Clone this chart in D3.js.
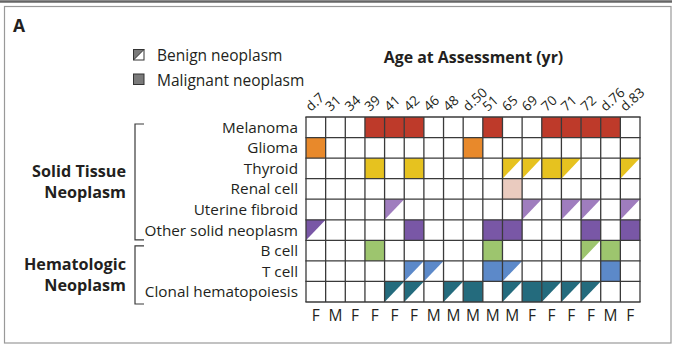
<!DOCTYPE html>
<html><head><meta charset="utf-8">
<script src="https://cdn.jsdelivr.net/npm/d3@7"></script>
<style>html,body{margin:0;padding:0;background:#fff;}svg{display:block;}</style>
</head><body>
<svg id="chart" width="681" height="350"></svg>
<script>
// ---- data ----
const ages = ["d.7","31","34","39","41","42","46","48","d.50","51","65","69","70","71","72","d.76","d.83"];
const sexes = ["F","M","F","F","F","F","M","M","M","M","M","F","F","F","F","M","F"];
const rowNames = ["Melanoma","Glioma","Thyroid","Renal cell","Uterine fibroid","Other solid neoplasm","B cell","T cell","Clonal hematopoiesis"];
const rowColors = ["#BE3A2A","#E8892B","#E6C21F","#EACBBF","#9F7DBE","#7957A6","#9DC56E","#5C89C9","#246B7D"];
// 0 = none, 1 = benign, 2 = malignant
const melanoma = [0,0,0,2,2,2,0,0,0,2,0,0,2,2,2,2,0];
const glioma   = [2,0,0,0,0,0,0,0,2,0,0,0,0,0,0,0,0];
const thyroid  = [0,0,0,2,0,2,0,0,0,0,1,1,2,1,0,0,1];
const renal    = [0,0,0,0,0,0,0,0,0,0,2,0,0,0,0,0,0];
const uterine  = [0,0,0,0,1,0,0,0,0,0,0,1,0,1,1,0,1];
const otherSolid = [1,0,0,0,0,2,0,0,0,2,2,0,0,0,2,0,2];
const bCell    = [0,0,0,2,0,0,0,0,0,2,0,0,0,0,1,2,0];
const tCell    = [0,0,0,0,0,1,1,0,0,2,1,0,0,0,0,2,0];
const clonal   = [0,0,0,0,1,1,0,1,2,0,1,2,1,1,1,0,0];
const statusRows = [melanoma, glioma, thyroid, renal, uterine, otherSolid, bCell, tCell, clonal];
const groups = [
  {lines:["Solid Tissue","Neoplasm"], first:0, last:5},
  {lines:["Hematologic","Neoplasm"], first:6, last:8}
];
const legendItems = ["Benign neoplasm","Malignant neoplasm"];

// ---- drawing ----
const svg = d3.select("#chart");
const FONT = "'Open Sans', 'Noto Sans', sans-serif";
const TXT = "#231F20";

// frame
svg.append("line").attr("x1",0).attr("x2",672).attr("y1",1.5).attr("y2",1.5)
  .attr("stroke","#666").attr("stroke-width",2.5);
svg.append("rect").attr("x",4.5).attr("y",6.5).attr("width",666.5).attr("height",336.5)
  .attr("fill","none").attr("stroke","#999").attr("stroke-width",1.2);

svg.append("text").attr("x",13).attr("y",32).text("A")
  .attr("font-family",FONT).attr("font-weight","bold").attr("font-size",17.5).attr("fill",TXT);

const x = d3.scaleBand().domain(d3.range(ages.length)).range([306, 640]);
const y = d3.scaleBand().domain(d3.range(rowNames.length)).range([117, 302]);

// cells
const cells = [];
statusRows.forEach((r, ri) => r.forEach((s, ci) => { if (s) cells.push({ri, ci, s}); }));
const g = svg.append("g");
g.selectAll("path.cell").data(cells).join("path").attr("class","cell")
  .attr("fill", d => rowColors[d.ri])
  .attr("d", d => {
    const x0 = x(d.ci), x1 = x0 + x.bandwidth(), y0 = y(d.ri), y1 = y0 + y.bandwidth();
    return d.s === 2 ? `M${x0},${y0}H${x1}V${y1}H${x0}Z` : `M${x0},${y0}H${x1}L${x0},${y1}Z`;
  });
// grid lines
const gx = d3.range(ages.length + 1).map(i => i < ages.length ? x(i) : x.range()[1]);
const gy = d3.range(rowNames.length + 1).map(i => i < rowNames.length ? y(i) : y.range()[1]);
g.selectAll("line.v").data(gx).join("line").attr("x1", d=>d).attr("x2", d=>d)
  .attr("y1", gy[0]).attr("y2", gy[gy.length-1]).attr("stroke","#3a3a3a").attr("stroke-width",1.3);
g.selectAll("line.h").data(gy).join("line").attr("y1", d=>d).attr("y2", d=>d)
  .attr("x1", gx[0]-0.6).attr("x2", gx[gx.length-1]+0.6).attr("stroke","#3a3a3a").attr("stroke-width",1.3);

// row labels
svg.selectAll("text.row").data(rowNames).join("text").attr("class","row")
  .attr("x", 298).attr("y", (d,i) => y(i) + y.bandwidth()/2 + 5.5)
  .attr("text-anchor","end").attr("font-family",FONT).attr("font-size",15.3).attr("fill",TXT)
  .text(d => d);

// column labels
svg.selectAll("text.age").data(ages).join("text").attr("class","age")
  .attr("transform", (d,i) => `translate(${x(i) + x.bandwidth()/2 - 5},${112}) rotate(-42)`)
  .attr("font-family",FONT).attr("font-size",13.5).attr("fill",TXT).text(d => d);

// sex labels
svg.selectAll("text.sex").data(sexes).join("text").attr("class","sex")
  .attr("x", (d,i) => x(i) + x.bandwidth()/2).attr("y", 321)
  .attr("text-anchor","middle").attr("font-family",FONT).attr("font-size",15.5).attr("fill",TXT)
  .text(d => d);

// axis title
svg.append("text").attr("x", 473.5).attr("y", 63).attr("text-anchor","middle")
  .attr("font-family",FONT).attr("font-weight","bold").attr("font-size",15.9).attr("fill",TXT)
  .text("Age at Assessment (yr)");

// groups & brackets
const bracketSpans = [[y(0) + 7, y(6) - 0.5], [y(6) + 5.5, y.range()[1] + 2]];
groups.forEach((gr, gi) => {
  const [t, bot] = bracketSpans[gi];
  svg.append("path").attr("d", `M144,${t}H135V${bot}H144`).attr("fill","none")
    .attr("stroke","#3a3a3a").attr("stroke-width",1.2);
  const mid = (t + bot) / 2;
  gr.lines.forEach((ln, k) => {
    svg.append("text").attr("x",126).attr("y", mid - 5 + k * 21.5)
      .attr("text-anchor","end").attr("font-family",FONT).attr("font-weight","bold")
      .attr("font-size",16.2).attr("fill",TXT).text(ln);
  });
});

// legend
legendItems.forEach((lab, k) => {
  const ly = 49.5 + k * 24.5;
  svg.append("rect").attr("x",133.5).attr("y",ly).attr("width",10.5).attr("height",10.5)
    .attr("fill", k === 0 ? "#fff" : "#7a7a7a").attr("stroke","#333").attr("stroke-width",1);
  if (k === 0) {
    svg.append("path").attr("d", `M133.5,${ly}H144L133.5,${ly+10.5}Z`).attr("fill","#7a7a7a")
      .attr("stroke","#333").attr("stroke-width",1);
  }
  svg.append("text").attr("x",157).attr("y", ly + 11.5).attr("font-family",FONT)
    .attr("font-size",15.5).attr("fill",TXT).text(lab);
});
</script>
</body></html>
